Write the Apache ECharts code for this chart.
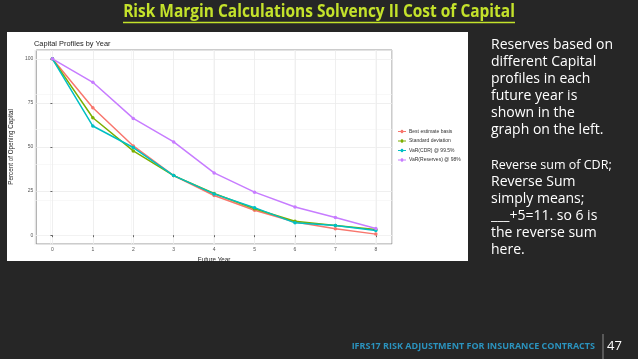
<!DOCTYPE html>
<html><head><meta charset="utf-8">
<script src="https://cdn.jsdelivr.net/npm/echarts@6/dist/echarts.min.js"></script>
<style>html,body{margin:0;padding:0;background:#262626}#c{width:638px;height:359px}</style>
</head><body><div id="c"></div>
<script>
const years = [0,1,2,3,4,5,6,7,8];
const seriesNames = ['Best estimate basis','Standard deviation','VaR(CDR) @ 99.5%','VaR(Reserves) @ 98%'];
const bestEstimate = [100,72.3,50.6,33.8,22.5,14.1,7.5,3.6,0.6];
const stdDeviation = [100,66.6,47.8,33.8,23.6,15.0,7.9,5.5,3.2];
const varCDR = [100,61.9,49.7,33.8,23.4,15.6,7.0,5.5,2.6];
const varReserves = [100,86.7,66.2,52.9,35.3,24.4,16.0,10.0,3.8];
const yTicks = [0,25,50,75,100];
const yMinor = [12.5,37.5,62.5,87.5];
const xMinor = [0.5,1.5,2.5,3.5,4.5,5.5,6.5,7.5];
const colors = ['#F8766D','#7CAE00','#00BFC4','#C77CFF'];
const allData = [bestEstimate, stdDeviation, varCDR, varReserves];

const chart = echarts.init(document.getElementById('c'), null, {renderer:'canvas'});
const txt = (x,y,s,size,color,weight,extra,props)=>Object.assign({type:'text',x:x,y:y,style:Object.assign({text:s,fill:color,font:(weight||'normal')+' '+size+'px "Open Sans"'},extra||{})},props||{});
const rightLines = [
  ['Reserves based on',14,45],['different Capital',14,62],['profiles in each',14,79],['future year is',14,96],['shown in the',14,113],['graph on the left.',14,130],
  ['Reverse sum of CDR;',12.5,165],['Reverse Sum',14,182],['simply means;',14,199],['___+5=11. so 6 is',14,216],['the reverse sum',14,233],['here.',14,250]
];
const graphics = [
  {type:'rect',shape:{x:7,y:32,width:461,height:229},style:{fill:'#ffffff'},z:-10},
  txt(319,12,'Risk Margin Calculations Solvency II Cost of Capital',17,'#C4E22B','bold',{align:'center',verticalAlign:'middle'},{scaleX:0.91}),
  {type:'line',shape:{x1:123,y1:22.5,x2:515,y2:22.5},style:{stroke:'#C4E22B',lineWidth:1.3}},
  txt(34,44,'Capital Profiles by Year',7.4,'#222','normal',{verticalAlign:'middle',font:'normal 7.4px "Liberation Sans"'}),
  txt(595,346,'IFRS17 RISK ADJUSTMENT FOR INSURANCE CONTRACTS',9,'#2B93BE','bold',{align:'right',verticalAlign:'middle'}),
  {type:'line',shape:{x1:603,y1:334,x2:603,y2:359},style:{stroke:'#8a8a8a',lineWidth:1}},
  txt(607,346,'47',13,'#ffffff','normal',{verticalAlign:'middle'})
];
rightLines.forEach(l=>graphics.push(txt(491,l[2],l[0],l[1],'#ffffff','normal',{verticalAlign:'middle'})));

const grid = {left:34,top:50,right:246,bottom:115,show:true,borderColor:'#7f7f7f',borderWidth:0.8,backgroundColor:'transparent'};
chart.setOption({
  backgroundColor:'#262626',
  animation:false,
  graphic:graphics,
  grid:[grid, Object.assign({},grid,{show:false})],
  legend:{orient:'vertical',left:398,top:129,itemGap:4.5,itemWidth:8,itemHeight:5,padding:0,
    textStyle:{fontSize:5,color:'#333',fontFamily:'Liberation Sans',padding:[0,0,0,-2]},data:seriesNames,
    icon:'path://M0,4.5L3,4.5A1.5,1.5 0 1 1 6,4.5L9,4.5L9,5.5L6,5.5A1.5,1.5 0 1 1 3,5.5L0,5.5Z'},
  xAxis:[
    {type:'value',gridIndex:0,min:-0.4,max:8.4,
     axisLine:{show:false},axisTick:{show:true,customValues:years,length:2,lineStyle:{color:'#666'}},
     axisLabel:{customValues:years,fontSize:5,color:'#555',margin:3,fontFamily:'Liberation Sans'},
     splitLine:{show:true,customValues:years,lineStyle:{color:'#ebebeb',width:0.8}},
     name:'Future Year',nameLocation:'middle',nameGap:8,nameTextStyle:{fontSize:6.3,color:'#222',fontFamily:'Liberation Sans'}},
    {type:'value',gridIndex:1,min:-0.4,max:8.4,axisLine:{show:false},axisTick:{show:false},axisLabel:{show:false},
     splitLine:{show:true,customValues:xMinor,lineStyle:{color:'#f4f4f4',width:0.6}}}
  ],
  yAxis:[
    {type:'value',gridIndex:0,min:-5,max:105,
     axisLine:{show:false},axisTick:{show:true,customValues:yTicks,length:2,lineStyle:{color:'#666'}},
     axisLabel:{customValues:yTicks,fontSize:5,color:'#555',margin:3,fontFamily:'Liberation Sans'},
     splitLine:{show:true,customValues:yTicks,lineStyle:{color:'#ebebeb',width:0.8}},
     name:'Percent of Opening Capital',nameLocation:'middle',nameGap:12,nameTextStyle:{fontSize:6.3,color:'#222',fontFamily:'Liberation Sans'}},
    {type:'value',gridIndex:1,min:-5,max:105,axisLine:{show:false},axisTick:{show:false},axisLabel:{show:false},
     splitLine:{show:true,customValues:yMinor,lineStyle:{color:'#f4f4f4',width:0.6}}}
  ],
  series: seriesNames.map((n,i)=>({
    name:n,type:'line',xAxisIndex:0,yAxisIndex:0,
    data: years.map((y,j)=>[y, allData[i][j]]),
    symbol:'circle',symbolSize:3.5,showSymbol:true,
    lineStyle:{width:1.5,color:colors[i]},itemStyle:{color:colors[i]},z:2+i
  }))
});
</script></body></html>
